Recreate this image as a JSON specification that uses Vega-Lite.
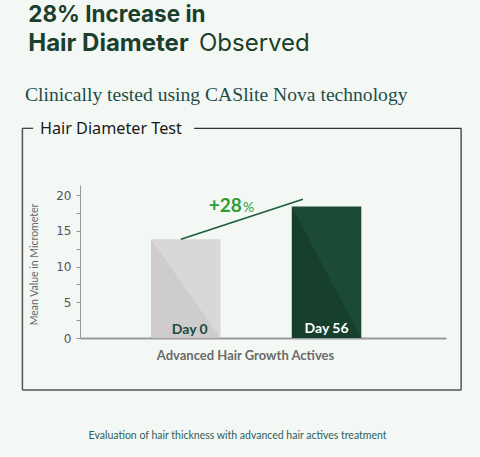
{
  "$schema": "https://vega.github.io/schema/vega-lite/v6.json",
  "autosize": "none",
  "width": 366,
  "height": 153,
  "padding": {"left": 80, "top": 185, "right": 34, "bottom": 119},
  "background": "#f3f8f4",
  "config": {
    "view": {"stroke": null},
    "axisY": {"grid": false, "domainColor": "#999999", "domainWidth": 1, "tickColor": "#999999", "tickSize": 4,
      "labelFont": "DejaVu Sans", "labelFontSize": 12, "labelColor": "#555555", "labelPadding": 5, "labelOverlap": false,
      "titleFont": "Lato", "titleFontSize": 10.5, "titleFontWeight": "normal", "titleColor": "#666666",
      "titleAngle": 270, "titleX": -46, "titleY": 79, "titleAlign": "center", "titleBaseline": "middle"},
    "axisX": {"labels": false, "ticks": false, "domainColor": "#9a9a9a", "domainWidth": 2, "grid": false,
      "titleFont": "Lato", "titleFontSize": 13, "titleFontWeight": "bold", "titleColor": "#6b6b6b",
      "titleX": 165, "titleY": 21, "titleBaseline": "alphabetic"}
  },
  "data": {"values": [
    {"day": "Day 0", "value": 13.8},
    {"day": "Day 56", "value": 18.4}
  ]},
  "layer": [
    {
      "transform": [{"filter": "datum.day === 'Day 0'"}],
      "mark": {"type": "bar", "color": {"gradient": "linear", "x1": 1, "y1": 0, "x2": 0, "y2": 1,
        "stops": [{"offset": 0, "color": "#d9d7d9"}, {"offset": 0.5, "color": "#d9d7d9"}, {"offset": 0.5, "color": "#cecccf"}, {"offset": 1, "color": "#cecccf"}]}},
      "encoding": {
        "x": {"field": "day", "type": "nominal",
          "scale": {"domain": ["Day 0", "Day 56"], "paddingInner": 0.506, "paddingOuter": 0.553, "align": 0.456},
          "axis": {"title": "Advanced Hair Growth Actives"}},
        "y": {"field": "value", "type": "quantitative",
          "scale": {"domain": [0, 21.4], "nice": false},
          "axis": {"values": [0, 2.5, 5, 7.5, 10, 12.5, 15, 17.5, 20],
            "labelExpr": "datum.value % 5 === 0 ? datum.label : ''",
            "title": "Mean Value in Micrometer"}}
      }
    },
    {
      "transform": [{"filter": "datum.day === 'Day 56'"}],
      "mark": {"type": "bar", "color": {"gradient": "linear", "x1": 1, "y1": 0, "x2": 0, "y2": 1,
        "stops": [{"offset": 0, "color": "#1b4a36"}, {"offset": 0.5, "color": "#1b4a36"}, {"offset": 0.5, "color": "#163f2e"}, {"offset": 1, "color": "#163f2e"}]}},
      "encoding": {"x": {"field": "day", "type": "nominal"}, "y": {"field": "value", "type": "quantitative", "axis": {"values": [0, 2.5, 5, 7.5, 10, 12.5, 15, 17.5, 20], "labelExpr": "datum.value % 5 === 0 ? datum.label : ''"}}}
    },
    {
      "transform": [{"filter": "datum.day === 'Day 0'"}],
      "mark": {"type": "text", "font": "Lato", "fontSize": 14, "fontWeight": "bold", "color": "#1f4a35", "baseline": "alphabetic", "dy": -4, "dx": 4},
      "encoding": {"x": {"field": "day", "type": "nominal"}, "y": {"datum": 0, "type": "quantitative", "axis": {"values": [0, 2.5, 5, 7.5, 10, 12.5, 15, 17.5, 20], "labelExpr": "datum.value % 5 === 0 ? datum.label : ''"}}, "text": {"field": "day"}}
    },
    {
      "transform": [{"filter": "datum.day === 'Day 56'"}],
      "mark": {"type": "text", "font": "Lato", "fontSize": 14, "fontWeight": "bold", "color": "#ffffff", "baseline": "alphabetic", "dy": -5},
      "encoding": {"x": {"field": "day", "type": "nominal"}, "y": {"datum": 0, "type": "quantitative", "axis": {"values": [0, 2.5, 5, 7.5, 10, 12.5, 15, 17.5, 20], "labelExpr": "datum.value % 5 === 0 ? datum.label : ''"}}, "text": {"field": "day"}}
    },
    {
      "data": {"values": [{"from": "Day 0", "to": "Day 56", "start": 13.8, "end": 19.4}]},
      "mark": {"type": "rule", "color": "#1d5a3c", "strokeWidth": 1.6},
      "encoding": {
        "x": {"field": "from", "type": "nominal", "bandPosition": 0.43},
        "x2": {"field": "to", "bandPosition": 0.16},
        "y": {"field": "start", "type": "quantitative", "axis": {"values": [0, 2.5, 5, 7.5, 10, 12.5, 15, 17.5, 20], "labelExpr": "datum.value % 5 === 0 ? datum.label : ''"}},
        "y2": {"field": "end"}
      }
    },
    {
      "data": {"values": [{"label": "+28", "unit": "%"}]},
      "mark": {"type": "text", "font": "Lato", "fontSize": 19, "fontWeight": "bold", "color": "#2f9e35", "align": "right", "baseline": "alphabetic"},
      "encoding": {"x": {"datum": "Day 0", "type": "nominal", "bandPosition": 1.305}, "y": {"datum": 17.67, "type": "quantitative", "axis": {"values": [0, 2.5, 5, 7.5, 10, 12.5, 15, 17.5, 20], "labelExpr": "datum.value % 5 === 0 ? datum.label : ''"}}, "text": {"field": "label"}}
    },
    {
      "data": {"values": [{"label": "+28", "unit": "%"}]},
      "mark": {"type": "text", "font": "Lato", "fontSize": 14, "fontWeight": "normal", "color": "#2f9e35", "align": "left", "baseline": "alphabetic"},
      "encoding": {"x": {"datum": "Day 0", "type": "nominal", "bandPosition": 1.324}, "y": {"datum": 17.67, "type": "quantitative", "axis": {"values": [0, 2.5, 5, 7.5, 10, 12.5, 15, 17.5, 20], "labelExpr": "datum.value % 5 === 0 ? datum.label : ''"}}, "text": {"field": "unit"}}
    },
    {
      "data": {"values": [{"side": "frame"}]},
      "mark": {"type": "rule", "color": "#555555", "strokeWidth": 1.5},
      "encoding": {"x": {"datum": "Day 0", "type": "nominal", "bandPosition": -1.849}, "y": {"datum": -7.27, "type": "quantitative", "axis": {"values": [0, 2.5, 5, 7.5, 10, 12.5, 15, 17.5, 20], "labelExpr": "datum.value % 5 === 0 ? datum.label : ''"}}, "y2": {"datum": 29.33}}
    },
    {
      "data": {"values": [{"side": "frame"}]},
      "mark": {"type": "rule", "color": "#555555", "strokeWidth": 1.5},
      "encoding": {"x": {"datum": "Day 0", "type": "nominal", "bandPosition": 4.46}, "y": {"datum": -7.27, "type": "quantitative", "axis": {"values": [0, 2.5, 5, 7.5, 10, 12.5, 15, 17.5, 20], "labelExpr": "datum.value % 5 === 0 ? datum.label : ''"}}, "y2": {"datum": 29.33}}
    },
    {
      "data": {"values": [{"side": "frame"}]},
      "mark": {"type": "rule", "color": "#555555", "strokeWidth": 1.5},
      "encoding": {"x": {"datum": "Day 0", "type": "nominal", "bandPosition": -1.849}, "x2": {"datum": "Day 0", "bandPosition": 4.46}, "y": {"datum": -7.27, "type": "quantitative", "axis": {"values": [0, 2.5, 5, 7.5, 10, 12.5, 15, 17.5, 20], "labelExpr": "datum.value % 5 === 0 ? datum.label : ''"}}}
    },
    {
      "data": {"values": [{"side": "frame"}]},
      "mark": {"type": "rule", "color": "#333333", "strokeWidth": 1.2},
      "encoding": {"x": {"datum": "Day 0", "type": "nominal", "bandPosition": -1.849}, "x2": {"datum": "Day 0", "bandPosition": -1.694}, "y": {"datum": 29.33, "type": "quantitative", "axis": {"values": [0, 2.5, 5, 7.5, 10, 12.5, 15, 17.5, 20], "labelExpr": "datum.value % 5 === 0 ? datum.label : ''"}}}
    },
    {
      "data": {"values": [{"side": "frame"}]},
      "mark": {"type": "rule", "color": "#333333", "strokeWidth": 1.2},
      "encoding": {"x": {"datum": "Day 0", "type": "nominal", "bandPosition": 0.619}, "x2": {"datum": "Day 0", "bandPosition": 4.46}, "y": {"datum": 29.33, "type": "quantitative", "axis": {"values": [0, 2.5, 5, 7.5, 10, 12.5, 15, 17.5, 20], "labelExpr": "datum.value % 5 === 0 ? datum.label : ''"}}}
    },
    {
      "data": {"values": [{"text": "28% Increase in"}]},
      "mark": {"type": "text", "font": "Inter", "fontSize": 22.5, "fontWeight": "bold", "color": "#1b3f2c", "align": "left", "baseline": "alphabetic"},
      "encoding": {"x": {"datum": "Day 0", "type": "nominal", "bandPosition": -1.765}, "y": {"datum": 44.2, "type": "quantitative", "axis": {"values": [0, 2.5, 5, 7.5, 10, 12.5, 15, 17.5, 20], "labelExpr": "datum.value % 5 === 0 ? datum.label : ''"}}, "text": {"field": "text"}}
    },
    {
      "data": {"values": [{"text": "Hair Diameter"}]},
      "mark": {"type": "text", "font": "Inter", "fontSize": 24, "fontWeight": "bold", "color": "#1b3f2c", "align": "left", "baseline": "alphabetic"},
      "encoding": {"x": {"datum": "Day 0", "type": "nominal", "bandPosition": -1.765}, "y": {"datum": 40.14, "type": "quantitative", "axis": {"values": [0, 2.5, 5, 7.5, 10, 12.5, 15, 17.5, 20], "labelExpr": "datum.value % 5 === 0 ? datum.label : ''"}}, "text": {"field": "text"}}
    },
    {
      "data": {"values": [{"text": "Observed"}]},
      "mark": {"type": "text", "font": "Inter", "fontSize": 24, "fontWeight": "normal", "color": "#1b3f2c", "align": "left", "baseline": "alphabetic"},
      "encoding": {"x": {"datum": "Day 0", "type": "nominal", "bandPosition": 0.69}, "y": {"datum": 40.14, "type": "quantitative", "axis": {"values": [0, 2.5, 5, 7.5, 10, 12.5, 15, 17.5, 20], "labelExpr": "datum.value % 5 === 0 ? datum.label : ''"}}, "text": {"field": "text"}}
    },
    {
      "data": {"values": [{"text": "Clinically tested using CASlite Nova technology"}]},
      "mark": {"type": "text", "font": "Liberation Serif", "fontSize": 19.6, "color": "#1d4d49", "align": "left", "baseline": "alphabetic"},
      "encoding": {"x": {"datum": "Day 0", "type": "nominal", "bandPosition": -1.813}, "y": {"datum": 33.15, "type": "quantitative", "axis": {"values": [0, 2.5, 5, 7.5, 10, 12.5, 15, 17.5, 20], "labelExpr": "datum.value % 5 === 0 ? datum.label : ''"}}, "text": {"field": "text"}}
    },
    {
      "data": {"values": [{"text": "Hair Diameter Test"}]},
      "mark": {"type": "text", "font": "Noto Sans", "fontSize": 16.2, "color": "#1a1a1a", "align": "left", "baseline": "alphabetic"},
      "encoding": {"x": {"datum": "Day 0", "type": "nominal", "bandPosition": -1.597}, "y": {"datum": 28.49, "type": "quantitative", "axis": {"values": [0, 2.5, 5, 7.5, 10, 12.5, 15, 17.5, 20], "labelExpr": "datum.value % 5 === 0 ? datum.label : ''"}}, "text": {"field": "text"}}
    },
    {
      "data": {"values": [{"text": "Evaluation of hair thickness with advanced hair actives treatment"}]},
      "mark": {"type": "text", "font": "Lato", "fontSize": 10.5, "color": "#2e5e5a", "align": "center", "baseline": "alphabetic"},
      "encoding": {"x": {"datum": "Day 0", "type": "nominal", "bandPosition": 1.245}, "y": {"datum": -14.13, "type": "quantitative", "axis": {"values": [0, 2.5, 5, 7.5, 10, 12.5, 15, 17.5, 20], "labelExpr": "datum.value % 5 === 0 ? datum.label : ''"}}, "text": {"field": "text"}}
    }
  ]
}
